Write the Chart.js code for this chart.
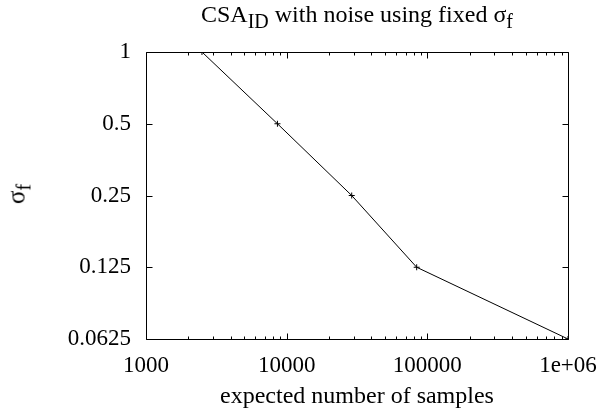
<!DOCTYPE html>
<html>
<head>
<meta charset="utf-8">
<script src="https://cdn.jsdelivr.net/npm/chart.js@4/dist/chart.umd.min.js"></script>
<style>
  html, body { margin: 0; padding: 0; background: #fff; }
  #wrap { position: relative; width: 602px; height: 417px; }
  canvas { position: absolute; left: 0; top: 0; }
  .lbl { position: absolute; font-family: "Liberation Serif", "Times New Roman", serif; color: #000; white-space: nowrap; line-height: 24px; }
  .lbl .sub { position: relative; top: 6px; font-size: 20px; }
  #title { left: 357px; top: 2px; font-size: 24px; transform: translateX(-50%); }
  #ylab { left: 17px; top: 194px; font-size: 25px; transform: translate(-50%, -50%) rotate(-90deg); }
</style>
</head>
<body>
<div id="wrap">
  <canvas id="c" width="602" height="417"></canvas>
  <div id="title" class="lbl">CSA<span class="sub">ID</span> with noise using fixed σ<span class="sub">f</span></div>
  <div id="ylab" class="lbl">σ<span class="sub">f</span></div>
</div>
<script>
// ---- data ----
const expectedSamples = [2500, 8600, 29000, 84000, 1000000];
const sigmaF = [1, 0.5, 0.25, 0.125, 0.0625];
const xTickValues = [1000, 10000, 100000, 1000000];
const xTickLabels = ['1000', '10000', '100000', '1e+06'];
const yTickValues = [0.0625, 0.125, 0.25, 0.5, 1];
const yTickLabels = ['0.0625', '0.125', '0.25', '0.5', '1'];
const xAxisTitle = 'expected number of samples';

const FONT = { family: '"Liberation Serif", "Times New Roman", serif', size: 23 };
const TITLE_FONT = { family: '"Liberation Serif", "Times New Roman", serif', size: 24 };

const frameTicks = {
  id: 'frameTicks',
  afterDatasetsDraw(chart) {
    const { ctx, chartArea: a, scales } = chart;
    const xs = scales.x, ys = scales.y;
    ctx.save();
    ctx.strokeStyle = '#000';
    ctx.lineWidth = 1;
    ctx.beginPath();
    const L = Math.round(a.left) + 0.5, R = Math.round(a.right) + 0.5;
    const T = Math.round(a.top) + 0.5, B = Math.round(a.bottom) + 0.5;
    ctx.rect(L, T, R - L, B - T);
    const xt = [];
    for (let i = 0; i < xTickValues.length; i++) {
      xt.push([xTickValues[i], 6]);
      if (i < xTickValues.length - 1) {
        for (let m = 2; m <= 9; m++) xt.push([xTickValues[i] * m, 3]);
      }
    }
    xt.forEach(([v, len]) => {
      const px = Math.round(xs.getPixelForValue(v)) + 0.5;
      ctx.moveTo(px, B); ctx.lineTo(px, B - len);
      ctx.moveTo(px, T); ctx.lineTo(px, T + len);
    });
    yTickValues.forEach(v => {
      const py = Math.round(ys.getPixelForValue(v)) + 0.5;
      ctx.moveTo(L, py); ctx.lineTo(L + 6, py);
      ctx.moveTo(R, py); ctx.lineTo(R - 6, py);
    });
    ctx.stroke();
    ctx.restore();
  }
};

new Chart(document.getElementById('c'), {
  type: 'scatter',
  data: {
    datasets: [{
      data: expectedSamples.map((x, i) => ({ x: x, y: sigmaF[i] })),
      showLine: true,
      borderColor: '#000',
      borderWidth: 1,
      pointStyle: 'cross',
      pointRadius: 3,
      pointBorderWidth: 1,
      pointBorderColor: '#000',
      pointBackgroundColor: '#000',
      fill: false,
      tension: 0
    }]
  },
  options: {
    responsive: false,
    animation: false,
    devicePixelRatio: 1,
    layout: { padding: { top: 52, right: 34, left: 0, bottom: 0 } },
    plugins: { legend: { display: false }, tooltip: { enabled: false }, title: { display: false } },
    scales: {
      x: {
        type: 'logarithmic',
        min: 1000, max: 1000000,
        afterBuildTicks: s => { s.ticks = xTickValues.map(v => ({ value: v })); },
        afterFit: s => { s.height = 78; s.paddingLeft = 0; s.paddingRight = 0; },
        grid: { display: false, drawTicks: false },
        border: { display: false },
        ticks: {
          autoSkip: false, maxRotation: 0, minRotation: 0, padding: 13,
          color: '#000', font: FONT,
          callback: (v, i) => xTickLabels[i]
        },
        title: { display: true, text: xAxisTitle, color: '#000', font: TITLE_FONT, padding: { top: 0, bottom: 6 } }
      },
      y: {
        type: 'logarithmic',
        min: 0.0625, max: 1,
        afterBuildTicks: s => { s.ticks = yTickValues.map(v => ({ value: v })); },
        afterFit: s => { s.width = 146; s.paddingTop = 0; s.paddingBottom = 0; },
        grid: { display: false, drawTicks: false },
        border: { display: false },
        ticks: {
          autoSkip: false, padding: 15,
          color: '#000', font: FONT,
          callback: (v, i) => yTickLabels[i]
        }
      }
    }
  },
  plugins: [frameTicks]
});
</script>
</body>
</html>
